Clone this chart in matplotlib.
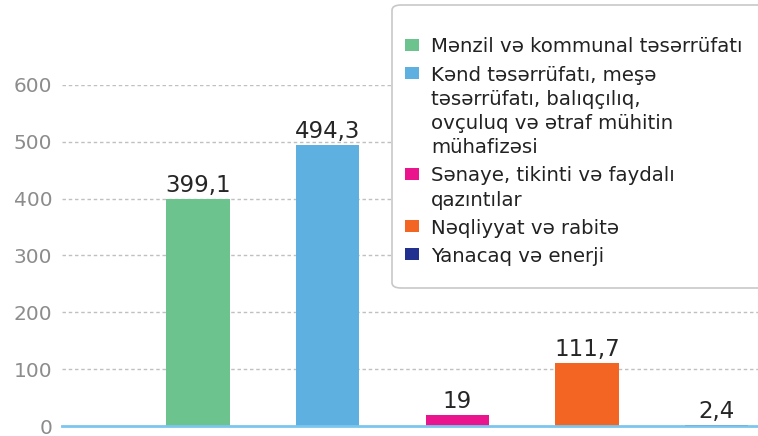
import matplotlib
matplotlib.use("Agg")
import matplotlib.pyplot as plt
from matplotlib.patches import Rectangle, FancyBboxPatch

categories = ["Mənzil və kommunal təsərrüfatı",
              "Kənd təsərrüfatı, meşə\ntəsərrüfatı, balıqçılıq,\novçuluq və ətraf mühitin\nmühafizəsi",
              "Sənaye, tikinti və faydalı\nqazıntılar",
              "Nəqliyyat və rabitə",
              "Yanacaq və enerji"]
values = [399.1, 494.3, 19, 111.7, 2.4]
value_labels = ["399,1", "494,3", "19", "111,7", "2,4"]
colors = ["#6cc38e", "#5eb0e0", "#ea148c", "#f26522", "#22318f"]
yticks = [0, 100, 200, 300, 400, 500, 600]

plt.rcParams['font.family'] = ['DejaVu Sans']
W, H = 758, 436
fig = plt.figure(figsize=(W / 100, H / 100), dpi=100)
ax = fig.add_axes([62 / W, 1 - 426 / H, 1 - 62 / W, (426 - 85) / H])

x = list(range(len(values)))
ax.bar(x, values, width=0.49, color=colors, zorder=3)
for xi, v, lab in zip(x, values, value_labels):
    ax.text(xi, v + 3, lab, ha='center', va='bottom', fontsize=16.5, color='#262626', zorder=4)

ax.set_xlim(-1.05, 4.32)
ax.set_ylim(0, 600)
ax.set_yticks(yticks)
ax.set_yticklabels([str(t) for t in yticks], fontsize=14.5, color='#8c8c8c')
ax.set_xticks([])
for t in yticks[1:]:
    ax.axhline(t, color='#c0c0c0', linestyle=(0, (2.5, 2)), linewidth=1, zorder=1)
for s in ['top', 'right', 'left']:
    ax.spines[s].set_visible(False)
ax.spines['bottom'].set_color('#7cc6ee')
ax.spines['bottom'].set_linewidth(2)
ax.spines['bottom'].set_zorder(4)
ax.tick_params(axis='y', length=0, pad=7)
ax.patch.set_alpha(0)

# legend frame
frame = FancyBboxPatch((392 / W, 1 - 288 / H), (775 - 392) / W, (288 - 5) / H,
                       boxstyle="round,pad=0,rounding_size=0.012",
                       transform=fig.transFigure, facecolor='white', edgecolor='#c8c8c8',
                       linewidth=1.2, zorder=5)
fig.patches.append(frame)

# legend entries (handle aligned with first line of each label)
line_h = 24.3
entry_gap = 28.0
y = 45.0
for c, lab in zip(colors, categories):
    fig.patches.append(Rectangle((405 / W, 1 - (y + 6) / H), 14 / W, 12 / H,
                                 transform=fig.transFigure, facecolor=c,
                                 edgecolor='none', zorder=6))
    for i, ln in enumerate(lab.split("\n")):
        fig.text(431 / W, 1 - (y + i * line_h) / H, ln, ha='left', va='center_baseline',
                 fontsize=14.2, color='#222222', zorder=7)
    y += (lab.count("\n")) * line_h + entry_gap

fig.savefig("out.png", dpi=100)
